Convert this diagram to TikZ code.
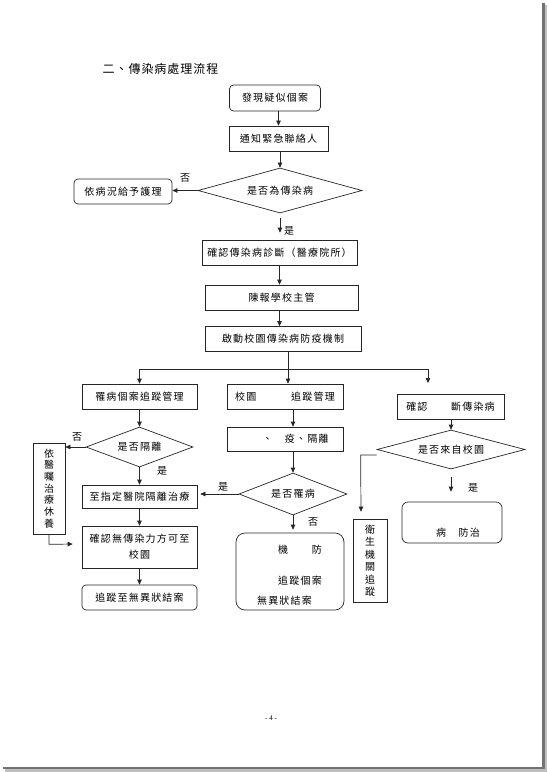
\documentclass[tikz,border=0pt]{standalone}
\usepackage{fontspec}
\setmainfont{Liberation Serif}
\newfontfamily\cjk{Noto Sans CJK TC}[LetterSpace=12]
\newfontfamily\cjkt{Noto Sans CJK TC}[LetterSpace=8]
\usetikzlibrary{shapes.geometric,arrows.meta,calc}
\newcommand\nudge[3]{\raisebox{\dimexpr#2-3.8pt\relax}[0pt][0pt]{\makebox[0pt]{\hspace*{#1}#3\hspace*{-#1}}}}
\begin{document}
\begin{tikzpicture}[x=1pt,y=-1pt,
  every node/.style={font=\cjk\fontsize{10}{12}\selectfont, inner sep=0pt, text=black},
  box/.style={draw=black!85, line width=0.7pt, align=center},
  rbox/.style={box, rounded corners=4pt},
  dia/.style={draw=black!85, line width=0.7pt, diamond},
  arr/.style={draw=black!85, line width=0.7pt, -{Triangle[length=5pt,width=4.5pt]}},
  ln/.style={draw=black!85, line width=0.7pt},
  lbl/.style={font=\cjk\fontsize{10}{12}\selectfont}
]
\useasboundingbox (0,0) rectangle (547,772);
% page edge shadow
\fill[black!55] (542,3) rectangle (545,769);
\fill[black!55] (3,766.5) rectangle (545,769);
\fill[black!25] (545,5) rectangle (547,772);
\fill[black!25] (5,769) rectangle (547,772);

\node[font=\cjkt\fontsize{12}{14}\selectfont] (title) at (160.5,68.5) {二、傳染病處理流程};

\node[rbox, minimum width=91pt, minimum height=26pt] (b1) at (275,98) {發現疑似個案};
\node[box, minimum width=99pt, minimum height=25pt] (b2) at (278.5,138.5) {通知緊急聯絡人};
\node[dia, minimum width=164pt, minimum height=45pt, aspect=3.64] (d1) at (280,190.5) {是否為傳染病};
\node[rbox, minimum width=98pt, minimum height=25pt] (nurse) at (123,191.5) {依病況給予護理};
\node[box, minimum width=155pt, minimum height=25pt] (b3) at (279.5,252.5) {確認傳染病診斷（醫療院所）};
\node[box, minimum width=153pt, minimum height=25pt] (b4) at (281.5,297.5) {陳報學校主管};
\node[box, minimum width=156pt, minimum height=25pt] (b5) at (283,339) {啟動校園傳染病防疫機制};
\coordinate (jn) at (288,369);
\coordinate (rt) at (428,383);
\node[box, minimum width=115pt, minimum height=25pt] (L1) at (139.5,396.5) {罹病個案追蹤管理};
\node[box, minimum width=116pt, minimum height=25pt] (M1) at (285,396.5) {校園　　　追蹤管理};
\node[box, minimum width=107pt, minimum height=25pt] (R1) at (450.5,406.5) {確認　　斷傳染病};
\node[dia, minimum width=107pt, minimum height=40pt, aspect=2.675] (d2) at (139.5,447) {是否隔離};
\node[box, minimum width=116pt, minimum height=24pt] (M2) at (285,439) {\nudge{10.5pt}{0pt}{、　疫、隔離}};
\node[dia, minimum width=148pt, minimum height=39pt, aspect=3.8] (d4) at (451,449.5) {是否來自校園};
\node[box, minimum width=32pt, minimum height=91pt, font=\cjk\fontsize{10}{11.7}\selectfont] (Lno) at (49,488.5) {依\\醫\\囑\\治\\療\\休\\養};
\node[dia, minimum width=108pt, minimum height=42pt, aspect=2.57] (d3) at (293,494) {是否罹病};
\node[box, minimum width=115pt, minimum height=23pt] (L2) at (139.5,496.5) {至指定醫院隔離治療};
\node[rbox, rounded corners=6pt, minimum width=100pt, minimum height=41pt] (R2) at (452,522.5) {\nudge{6pt}{-10pt}{病　防治}};
\node[box, minimum width=34pt, minimum height=83pt, font=\cjk\fontsize{10}{12.5}\selectfont] (HL) at (370,560.5) {衛\\生\\機\\關\\追\\蹤};
\node[box, minimum width=115pt, minimum height=42pt, font=\cjk\fontsize{10}{16}\selectfont] (L3) at (139.5,547) {確認無傳染力方可至\\校園};
\node[rbox, rounded corners=9pt, minimum width=108pt, minimum height=77pt] (M3) at (290,571.5) {\nudge{10pt}{21.5pt}{機　　防}\nudge{10pt}{-9.5pt}{追蹤個案}\nudge{-5.5pt}{-29.5pt}{無異狀結案}};
\node[rbox, minimum width=115pt, minimum height=25pt] (L4) at (139.5,597.5) {追蹤至無異狀結案};

% connectors
\draw[arr] (b1.south -| b2.north) -- (b2.north);
\draw[arr] (b2.south -| d1.north) -- (d1.north);
\draw[arr] (d1.west) -- (d1.west -| nurse.east);
\node[lbl] (no1) at (185,178) {否};
\draw[arr] ($(d1.south)+(0,5)$) -- ($(d1.south |- b3.north)+(0,-7)$);
\node[lbl] (yes1) at (289,231) {是};
\draw[arr] (b3.south) -- (b3.south |- b4.north);
\draw[arr] (b4.south -| b3.south) -- (b3.south |- b5.north);
\draw[ln] (b5.south -| jn) -- (jn);
\draw[ln] (jn -| L1.north) -- (jn -| rt);
\draw[arr] (jn -| L1.north) -- (L1.north);
\draw[arr] (jn) -- (jn |- M1.north);
\draw[arr] (jn -| rt) -- (rt);

\draw[arr] (L1.south) -- (d2.north);
\draw[arr] (d2.west) -- (d2.west -| Lno.east);
\node[lbl] (no2) at (77,437) {否};
\draw[arr] (d2.south) -- (L2.north);
\node[lbl] (yes2) at (162,471) {是};
\draw[arr] (Lno.south) -- ++(0,10) -- ($(L3.west)+(-9,-3)$);
\draw[arr] (L2.south) -- (L3.north);
\draw[arr] (L3.south) -- (L4.north);

\coordinate (mc) at (293,0);
\draw[arr] (M1.south -| mc) -- (M2.north -| mc);
\draw[arr] (M2.south -| d3.north) -- (d3.north);
\draw[arr] (d3.west) -- ($(d3.west -| L2.east)+(3,0)$);
\node[lbl] (yes3) at (223,487) {是};
\draw[arr] (d3.south) -- ($(d3.south |- M3.north)+(0,-3)$);
\node[lbl] (no3) at (313,522) {否};

\draw[arr] (R1.south -| d4.north) -- (d4.north);
\draw[arr] ($(d4.west)+(0,5.5)$) -- ++(-16,0) -- ($(HL.north)+(-9,-7)$);
\draw[arr] ($(d4.south)+(0,8)$) -- ($(d4.south |- R2.north)+(0,-10)$);
\node[lbl] (yes4) at (473,488) {是};

\node[font=\fontsize{7}{8}\selectfont] (pg) at (271,718) {- 4 -};
\end{tikzpicture}
\end{document}
